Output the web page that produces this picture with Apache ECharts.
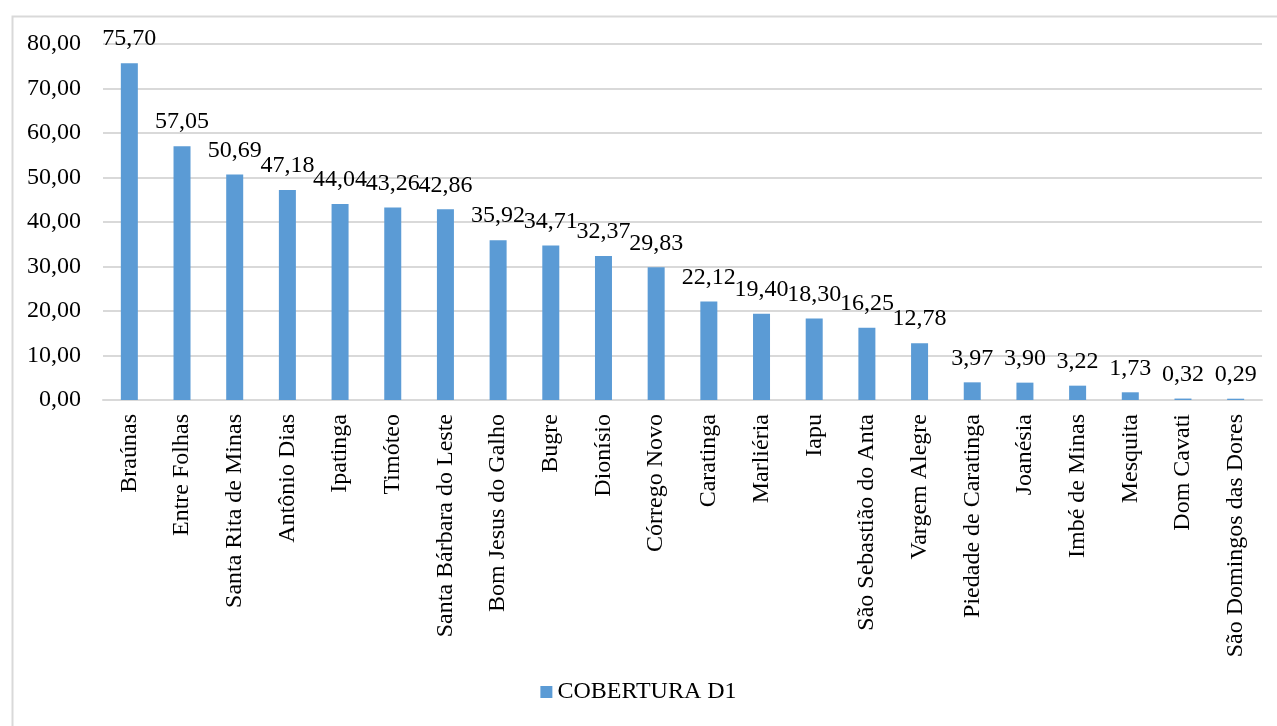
<!DOCTYPE html>
<html>
<head>
<meta charset="utf-8">
<script src="https://cdn.jsdelivr.net/npm/echarts@6/dist/echarts.min.js"></script>
<style>
html, body { margin: 0; padding: 0; background: #fff; }
#chart { width: 1277px; height: 726px; }
</style>
</head>
<body>
<div id="chart"></div>
<script>
var categories = ['Braúnas', 'Entre Folhas', 'Santa Rita de Minas', 'Antônio Dias', 'Ipatinga', 'Timóteo',
    'Santa Bárbara do Leste', 'Bom Jesus do Galho', 'Bugre', 'Dionísio', 'Córrego Novo', 'Caratinga',
    'Marliéria', 'Iapu', 'São Sebastião do Anta', 'Vargem Alegre', 'Piedade de Caratinga', 'Joanésia',
    'Imbé de Minas', 'Mesquita', 'Dom Cavati', 'São Domingos das Dores'];
var cobertura = [75.70, 57.05, 50.69, 47.18, 44.04, 43.26, 42.86, 35.92, 34.71, 32.37, 29.83, 22.12,
    19.40, 18.30, 16.25, 12.78, 3.97, 3.90, 3.22, 1.73, 0.32, 0.29];

var serif = '"Liberation Serif", "DejaVu Serif", serif';
function fmt(v) {
    return Number(v).toFixed(2).replace('.', ',');
}

var myChart = echarts.init(document.getElementById('chart'));
myChart.setOption({
    animation: false,
    backgroundColor: '#fff',
    graphic: [{
        type: 'rect',
        left: 10, top: 14,
        shape: {width: 1400, height: 800},
        style: {fill: 'none', stroke: '#d9d9d9', lineWidth: 2},
        silent: true
    }],
    grid: {left: 103, right: 15, top: 44, bottom: 326},
    legend: {
        bottom: 17,
        left: 'center',
        itemWidth: 12,
        itemHeight: 12,
        itemGap: 6,
        icon: 'rect',
        textStyle: {fontFamily: serif, fontSize: 24, color: '#000'},
        data: ['COBERTURA D1']
    },
    xAxis: {
        type: 'category',
        data: categories,
        axisLine: {lineStyle: {color: '#d9d9d9', width: 2}},
        axisTick: {show: false},
        axisLabel: {
            rotate: 90,
            interval: 0,
            margin: 14,
            fontFamily: serif,
            fontSize: 24,
            color: '#000'
        }
    },
    yAxis: {
        type: 'value',
        min: 0,
        max: 80,
        interval: 10,
        axisLine: {show: false},
        axisTick: {show: false},
        splitLine: {lineStyle: {color: '#d9d9d9', width: 2}},
        axisLabel: {
            margin: 22,
            fontFamily: serif,
            fontSize: 24,
            color: '#000',
            formatter: fmt
        }
    },
    series: [{
        name: 'COBERTURA D1',
        type: 'bar',
        data: cobertura,
        barWidth: 17,
        itemStyle: {color: '#5b9bd5'},
        label: {
            show: true,
            position: 'top',
            distance: 12,
            fontFamily: serif,
            fontSize: 24,
            color: '#000',
            formatter: function (p) { return fmt(p.value); }
        }
    }]
});
</script>
</body>
</html>
